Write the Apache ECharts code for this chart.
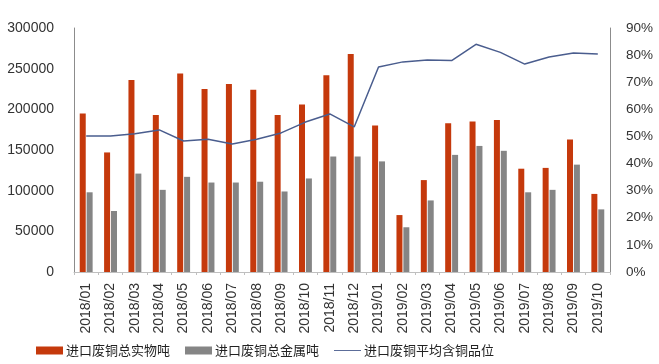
<!DOCTYPE html>
<html><head><meta charset="utf-8">
<script src="https://cdn.jsdelivr.net/npm/echarts@6/dist/echarts.min.js"></script>
<style>html,body{margin:0;padding:0;background:#fff}#c{width:659px;height:364px}</style>
</head><body><div id="c"></div>
<script>
const categories = ['2018/01','2018/02','2018/03','2018/04','2018/05','2018/06','2018/07','2018/08','2018/09','2018/10','2018/11','2018/12','2019/01','2019/02','2019/03','2019/04','2019/05','2019/06','2019/07','2019/08','2019/09','2019/10'];
const physicalTons = [195000,147000,236000,193000,244000,225000,231000,224000,193000,206000,242000,268000,180000,70000,113000,183000,185000,187000,127000,128000,163000,96000];
const metalTons = [98000,75000,121000,101000,117000,110000,110000,111000,99000,115000,142000,142000,136000,55000,88000,144000,155000,149000,98000,101000,132000,77000];
const copperGrade = [0.502,0.502,0.510,0.524,0.483,0.490,0.472,0.490,0.513,0.553,0.583,0.535,0.756,0.775,0.782,0.780,0.840,0.810,0.767,0.793,0.808,0.804];
const names = ['进口废铜总实物吨','进口废铜总金属吨','进口废铜平均含铜品位'];

const font = '"Microsoft YaHei","Noto Sans CJK SC",sans-serif';
const numFont = 'Arial,"Liberation Sans",sans-serif';
const chart = echarts.init(document.getElementById('c'));
chart.setOption({
  animation:false,
  textStyle:{fontFamily:font},
  grid:{left:74,right:49,top:28,bottom:92},
  legend:{
    bottom:2,left:31,itemGap:15,itemWidth:27,itemHeight:8,
    textStyle:{fontSize:13,color:'#222',fontFamily:font,padding:[0,0,0,-2]},
    data:[
      {name:names[0],icon:'rect'},
      {name:names[1],icon:'rect'},
      {name:names[2],icon:'path://M0,0 L30,0 L30,1 L0,1 Z'}
    ]
  },
  xAxis:{
    type:'category',data:categories,
    axisLine:{lineStyle:{color:'#bfbfbf'}},
    axisTick:{show:true,length:3,lineStyle:{color:'#bfbfbf'}},
    axisLabel:{rotate:90,fontSize:14,color:'#333',margin:11,interval:0,fontFamily:numFont}
  },
  yAxis:[
    {type:'value',min:0,max:300000,interval:50000,
     axisLine:{show:true,lineStyle:{color:'#8c8c8c'}},
     axisTick:{show:false},splitLine:{show:false},
     axisLabel:{fontSize:14,color:'#333',margin:20,fontFamily:numFont,formatter:v=>String(v)}},
    {type:'value',min:0,max:0.9,interval:0.1,position:'right',
     axisLine:{show:true,lineStyle:{color:'#8c8c8c'}},
     axisTick:{show:false},splitLine:{show:false},
     axisLabel:{fontSize:13.5,color:'#333',margin:16,fontFamily:numFont,
       formatter:v=>Math.round(v*100)+'%'}}
  ],
  series:[
    {name:names[0],type:'bar',data:physicalTons,barWidth:6,barGap:'15%',itemStyle:{color:'#C5390C'}},
    {name:names[1],type:'bar',data:metalTons,barWidth:6,itemStyle:{color:'#858585'}},
    {name:names[2],type:'line',yAxisIndex:1,data:copperGrade,symbol:'none',
     lineStyle:{color:'#4A5D8E',width:1.5},itemStyle:{color:'#4A5D8E'}}
  ]
});
</script></body></html>
